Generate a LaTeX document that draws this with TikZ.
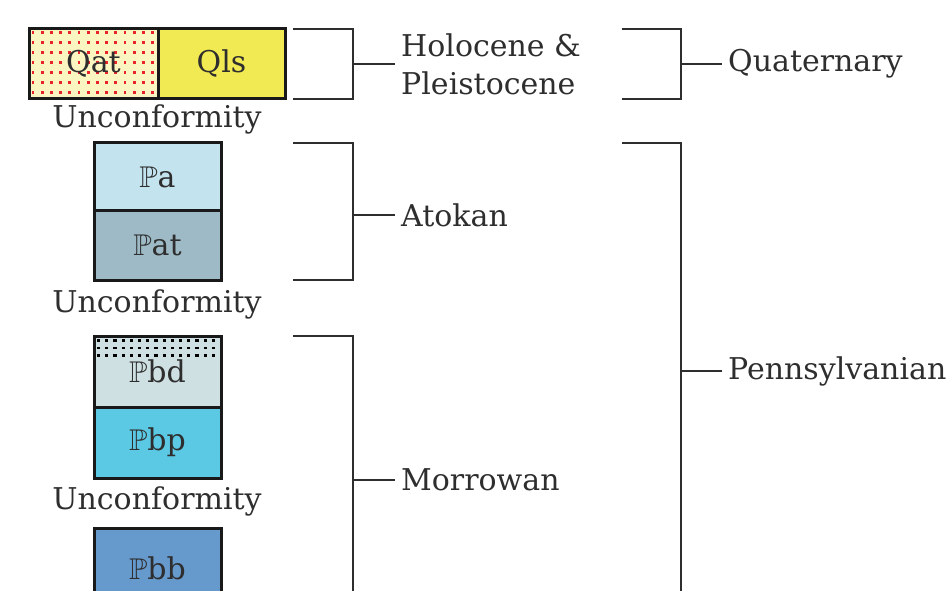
\documentclass[tikz,border=0pt]{standalone}
\usepackage{fontspec}
\usepackage{amssymb}
\usetikzlibrary{backgrounds}
\setmainfont{DejaVu Serif}
\definecolor{ink}{HTML}{2E2E2E}
\definecolor{qatfill}{HTML}{FBF5C2}
\definecolor{qlsfill}{HTML}{F2EA52}
\definecolor{pafill}{HTML}{C3E3EF}
\definecolor{patfill}{HTML}{9DBAC6}
\definecolor{pbdfill}{HTML}{CEE0E1}
\definecolor{pbpfill}{HTML}{5CC9E4}
\definecolor{pbbfill}{HTML}{6699CC}
\definecolor{dotred}{HTML}{E8242A}
\newcommand{\Pn}{$\mathbb{P}$}
\begin{document}
\begin{tikzpicture}[x=1pt,y=-1pt,
  every node/.style={font=\fontsize{30}{38}\selectfont, text=ink},
  unitbox/.style={draw=black!90, line width=3pt, inner sep=0pt},
  brk/.style={draw=ink, line width=2.4pt},
  agelabel/.style={anchor=west, align=left, inner xsep=6pt, inner ysep=0pt}]
\useasboundingbox (0,0) rectangle (946,591);

% Quaternary units
\node[unitbox, minimum width=129pt, minimum height=70pt] (qat) at (93.5,64) {Qat};
\node[unitbox, fill=qlsfill, minimum width=127pt, minimum height=70pt] (qls) at (221.5,64) {Qls};
\node (unc1) at (157,119) {Unconformity};

% Atokan units
\node[unitbox, fill=pafill, minimum width=127pt, minimum height=68pt] (pa) at (157.5,177) {\Pn a};
\node[unitbox, fill=patfill, minimum width=127pt, minimum height=69pt] (pat) at (157.5,245.5) {\Pn at};
\node (unc2) at (157,304) {Unconformity};

% Morrowan units
\node[unitbox, minimum width=127pt, minimum height=71pt] (pbd) at (157.5,371.5) {\Pn bd};
\node[unitbox, fill=pbpfill, minimum width=127pt, minimum height=71pt] (pbp) at (157.5,442.5) {\Pn bp};
\node (unc3) at (157,501) {Unconformity};
\node[unitbox, fill=pbbfill, minimum width=127pt, minimum height=80pt] (pbb) at (157.5,568) {\Pn bb};

% Stippled units: fill and pattern sit beneath the outline and label
\begin{scope}[on background layer]
  \fill[qatfill] (qat.north west) rectangle (qat.south east);
  \fill[pbdfill] (pbd.north west) rectangle (pbd.south east);
  \begin{scope}
    \clip (qat.north west) rectangle (qat.south east);
    \foreach \i in {0,...,13} \foreach \j in {0,...,6}
      \fill[dotred] ({31.5+9.2*\i},{31.5+10*\j}) rectangle ++(2.9,2.9);
  \end{scope}
  \begin{scope}
    \clip (pbd.north west) rectangle (pbd.south east);
    \foreach \i in {0,...,15} \foreach \y in {339,346.5,354}
      \fill[black] ({97+8.2*\i},{\y}) rectangle ++(3.2,2.5);
  \end{scope}
\end{scope}

% Series brackets
\draw[brk] (293,29) -- (353,29) -- (353,99) -- (293,99);
\coordinate (holoTick) at (353,64);
\node[agelabel] (holo) at (395,64) {Holocene \&\\Pleistocene};
\draw[brk] (holoTick) -- (holo.west);

\draw[brk] (293,143) -- (353,143) -- (353,280) -- (293,280);
\coordinate (atoTick) at (353,215);
\node[agelabel] (atokan) at (395,215) {Atokan};
\draw[brk] (atoTick) -- (atokan.west);

\draw[brk] (293,336) -- (353,336) -- (353,600);
\coordinate (morTick) at (353,480);
\node[agelabel] (morrowan) at (395,480) {Morrowan};
\draw[brk] (morTick) -- (morrowan.west);

% System brackets
\draw[brk] (622,29) -- (681,29) -- (681,99) -- (622,99);
\coordinate (quatTick) at (681,64);
\node[agelabel] (quat) at (722,64) {Quaternary};
\draw[brk] (quatTick) -- (quat.west);

\draw[brk] (622,143) -- (681,143) -- (681,600);
\coordinate (pennTick) at (681,371);
\node[agelabel] (penn) at (722,371) {Pennsylvanian};
\draw[brk] (pennTick) -- (penn.west);
\end{tikzpicture}
\end{document}
